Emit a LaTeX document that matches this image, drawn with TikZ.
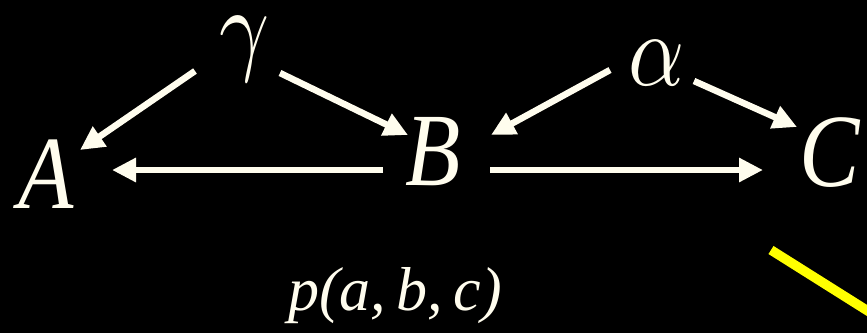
\documentclass[tikz,border=0pt]{standalone}
\usepackage{graphicx}
\usepackage{fontspec}
\setmainfont{Liberation Serif}
\newfontfamily\narrowserif{Liberation Serif}[FakeStretch=0.87]
\usetikzlibrary{arrows.meta}
\definecolor{ink}{RGB}{255,253,238}
\definecolor{marker}{RGB}{255,255,0}
\newcommand{\bigit}{\fontsize{104}{110}\narrowserif\itshape}
\newcommand{\smallit}{\fontsize{62}{68}\selectfont\itshape}
\newcommand{\narrowgreek}[1]{\scalebox{8.74}[10.4]{\fontsize{10}{12}\selectfont$#1$}}

\begin{document}
\begin{tikzpicture}[x=1pt, y=-1pt,
  lbl/.style={text=ink, inner sep=0pt, anchor=base, font=\bigit},
  arr/.style={draw=ink, line width=6.5pt, -{Triangle[length=24pt, width=23pt]}}]
  \fill[black] (0,0) rectangle (867,333);
  \useasboundingbox (0,0) rectangle (867,333);
  \clip (0,0) rectangle (867,333);
  % variables
  \node[lbl] (A) at (46,208) {A};
  \node[lbl] (B) at (433,185) {B};
  \node[lbl] (C) at (830,186) {C};
  \node[lbl] (gamma) at (245,61) {\narrowgreek{\gamma}};
  \node[lbl] (alpha) at (657,85) {\narrowgreek{\alpha}};
  \node[lbl, font=\smallit] (joint) at (395,310) {p(a,\,b,\,c)};
  % arrows
  \draw[arr] ([shift={(-50,10)}]gamma.base) -- ([shift={(34,-58)}]A.base);
  \draw[arr] ([shift={(35,12)}]gamma.base) -- ([shift={(-25,-50)}]B.base);
  \draw[arr] ([shift={(-50,-15)}]B.base) -- ([shift={(66,-38)}]A.base);
  \draw[arr] ([shift={(-47,-15)}]alpha.base) -- ([shift={(58,-50)}]B.base);
  \draw[arr] ([shift={(37,-4)}]alpha.base) -- ([shift={(-33,-59)}]C.base);
  \draw[arr] ([shift={(57,-15)}]B.base) -- ([shift={(-67,-16)}]C.base);
  % yellow stroke
  \draw[marker, line width=9.5pt] (771,250) -- (960,369);
\end{tikzpicture}
\end{document}
